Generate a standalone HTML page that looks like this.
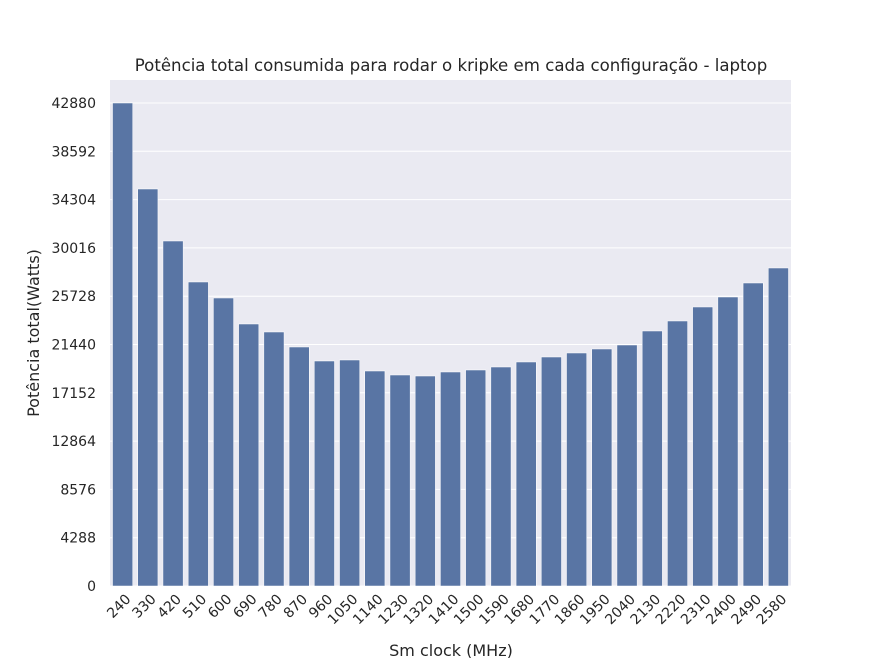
<!DOCTYPE html>
<html><head><meta charset="utf-8"><style>
body{margin:0;background:#fff;}
svg text{font-family:"DejaVu Sans","Liberation Sans",sans-serif;fill:#262626;}
</style></head><body>
<svg id="chart" width="880" height="658"></svg>
<script>
const categories=[240,330,420,510,600,690,780,870,960,1050,1140,1230,1320,1410,1500,1590,1680,1770,1860,1950,2040,2130,2220,2310,2400,2490,2580];
const values=[42880,35245,30628,26989,25568,23260,22550,21218,19975,20064,19087,18732,18643,18999,19176,19442,19887,20330,20686,21041,21396,22639,23527,24770,25657,26900,28232];
const yTicks=[0,4288,8576,12864,17152,21440,25728,30016,34304,38592,42880];
const L=110,R=791,T=80,B=586;
const svg=document.getElementById('chart');const NS='http://www.w3.org/2000/svg';
function y(v){return B-(v/42880)*(B-103);}
const step=(R-L)/categories.length;
function x(i){return L+step*i;}
function mk(t,a,p){const e=document.createElementNS(NS,t);for(const k in a)e.setAttribute(k,a[k]);(p||svg).appendChild(e);return e;}
const bg=mk('rect',{x:L,y:T,width:R-L,height:B-T,fill:'#eaeaf2'});


yTicks.forEach(v=>{
 const g=mk('line',{x1:L,x2:R,y1:y(v),y2:y(v),stroke:'#fff','stroke-width':1});
 
 
 const t=mk('text',{x:L-14,y:y(v)+5,'text-anchor':'end','font-size':14});t.textContent=v;
 
 
});
categories.forEach((c,i)=>{
 const bw=step*0.8,bx=x(i)+step*0.1;
 const r=mk('rect',{x:bx,y:y(values[i]),width:bw,height:B-y(values[i]),fill:'#5975a4',stroke:'#fff','stroke-width':0.5});
 
 
 const cx=x(i)+step/2+9, cy=B+14;
 const t=mk('text',{x:cx,y:cy,'text-anchor':'end','font-size':14,transform:`rotate(-45 ${cx} ${cy})`});t.textContent=c;
 
 
});
let t=mk('text',{x:451,y:71,'text-anchor':'middle','font-size':16.6});t.textContent='Potência total consumida para rodar o kripke em cada configuração - laptop';


t=mk('text',{x:451,y:656,'text-anchor':'middle','font-size':16});t.textContent='Sm clock (MHz)';


t=mk('text',{x:39,y:333,'text-anchor':'middle','font-size':16,transform:'rotate(-90 39 333)'});t.textContent='Potência total(Watts)';


</script>
</body></html>
